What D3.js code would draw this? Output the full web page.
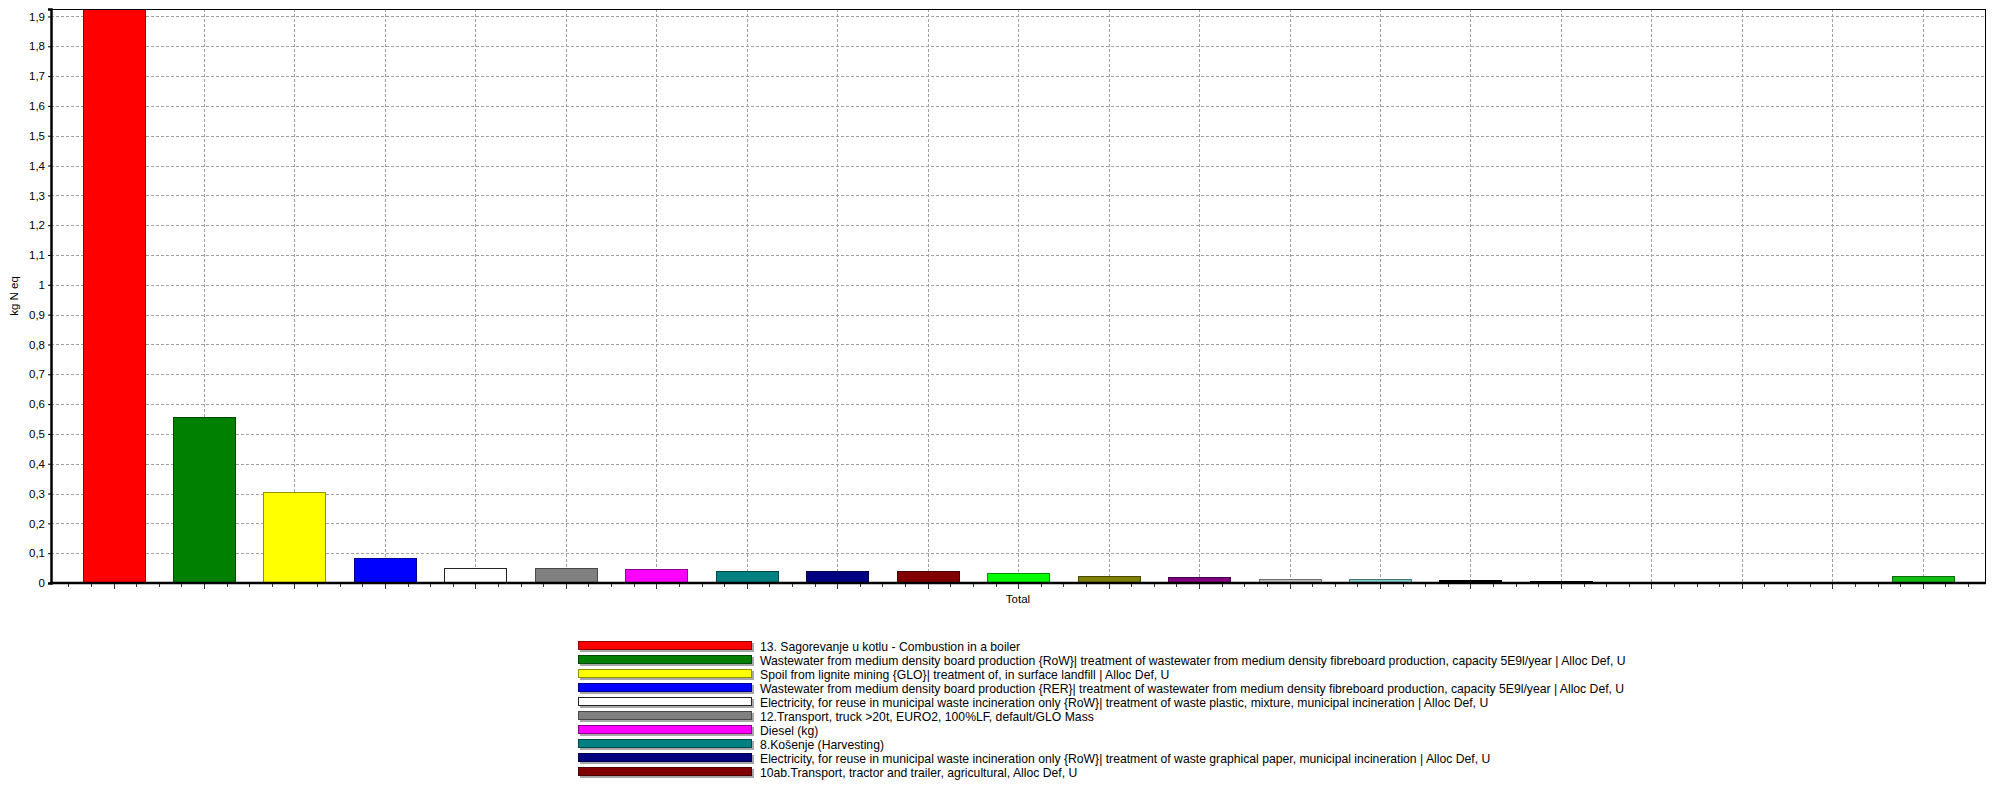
<!DOCTYPE html>
<html>
<head>
<meta charset="utf-8">
<script src="https://cdn.jsdelivr.net/npm/d3@7"></script>
<style>
  html, body { margin: 0; padding: 0; background: #fff; }
  svg { display: block; font-family: "Liberation Sans", Arial, sans-serif; }
</style>
</head>
<body>
<svg id="chart" width="1999" height="785"></svg>
<script>
// ---- data ----
const processNames = [
  "13. Sagorevanje u kotlu - Combustion in a boiler",
  "Wastewater from medium density board production {RoW}| treatment of wastewater from medium density fibreboard production, capacity 5E9l/year | Alloc Def, U",
  "Spoil from lignite mining {GLO}| treatment of, in surface landfill | Alloc Def, U",
  "Wastewater from medium density board production {RER}| treatment of wastewater from medium density fibreboard production, capacity 5E9l/year | Alloc Def, U",
  "Electricity, for reuse in municipal waste incineration only {RoW}| treatment of waste plastic, mixture, municipal incineration | Alloc Def, U",
  "12.Transport, truck >20t, EURO2, 100%LF, default/GLO Mass",
  "Diesel (kg)",
  "8.Košenje (Harvesting)",
  "Electricity, for reuse in municipal waste incineration only {RoW}| treatment of waste graphical paper, municipal incineration | Alloc Def, U",
  "10ab.Transport, tractor and trailer, agricultural, Alloc Def, U"
];
const values = [1.925, 0.557, 0.304, 0.084, 0.050, 0.050, 0.046, 0.039, 0.039, 0.039,
                0.032, 0.024, 0.021, 0.013, 0.013, 0.0095, 0.006, 0, 0, 0, 0.025];
const colors = ["#ff0000", "#008000", "#ffff00", "#0000ff", "#ffffff", "#808080", "#ff00ff",
                "#008080", "#000080", "#800000", "#00ff00", "#808000", "#800080", "#c0c0c0",
                "#80d0d0", "#000000", "#000000", "#c0c0c0", "#c0c0c0", "#c0c0c0", "#14bd14"];
const yTicks = [0, 0.1, 0.2, 0.3, 0.4, 0.5, 0.6, 0.7, 0.8, 0.9, 1, 1.1, 1.2, 1.3, 1.4, 1.5, 1.6, 1.7, 1.8, 1.9];
const xLabel = "Total";
const yLabel = "kg N eq";

// ---- layout ----
const svg = d3.select("#chart");
const plot = { left: 51, right: 1985, top: 9, bottom: 583 };
const idx = d3.range(values.length);

const x = d3.scaleBand().domain(idx).range([68.3, 1968]).paddingInner(0.315).paddingOuter(0.1575);
const y = d3.scaleLinear().domain([0, 1.925]).range([plot.bottom, plot.top]);

const loc = d3.formatLocale({ decimal: ",", thousands: ".", grouping: [3], currency: ["", ""] });
const fmt = loc.format(".1~f");

// gridlines
const grid = svg.append("g").attr("stroke", "#a0a0a0").attr("stroke-width", 1)
  .attr("stroke-dasharray", "3,2").attr("shape-rendering", "crispEdges");
grid.selectAll("line.h").data(yTicks.filter(d => d > 0)).join("line")
  .attr("x1", plot.left).attr("x2", plot.right)
  .attr("y1", d => Math.round(y(d)) + 0.5).attr("y2", d => Math.round(y(d)) + 0.5);
grid.selectAll("line.v").data(idx).join("line")
  .attr("x1", d => Math.round(x(d) + x.bandwidth() / 2) + 0.5)
  .attr("x2", d => Math.round(x(d) + x.bandwidth() / 2) + 0.5)
  .attr("y1", plot.top).attr("y2", plot.bottom);

// bars
svg.append("g").selectAll("rect").data(idx.filter(i => values[i] > 0)).join("rect")
  .attr("x", i => Math.round(x(i)) + 0.5)
  .attr("width", Math.round(x.bandwidth()))
  .attr("y", i => Math.round(y(values[i])) + 0.5)
  .attr("height", i => Math.max(1, Math.round(y(0) - y(values[i]))))
  .attr("fill", i => colors[i])
  .attr("stroke", i => colors[i] === "#ffffff" ? "#222" : d3.color(colors[i]).darker(1.6))
  .attr("stroke-width", 1.3)
  .attr("shape-rendering", "crispEdges");

// frame
svg.append("line").attr("x1", plot.left).attr("x2", plot.right).attr("y1", plot.top + 0.5).attr("y2", plot.top + 0.5)
  .attr("stroke", "#000").attr("stroke-width", 1);
svg.append("line").attr("x1", plot.right + 0.5).attr("x2", plot.right + 0.5).attr("y1", plot.top).attr("y2", plot.bottom)
  .attr("stroke", "#000").attr("stroke-width", 1);

// y axis
const yAxis = d3.axisLeft(y).tickValues(yTicks).tickFormat(fmt).tickSize(3).tickPadding(3);
const gy = svg.append("g").attr("transform", `translate(${plot.left},0)`).call(yAxis);
gy.select(".domain").attr("stroke", "#000").attr("stroke-width", 2.5);
gy.selectAll("text").attr("font-size", 11.5).attr("fill", "#000")
  .attr("font-family", "'Liberation Sans', Arial, sans-serif");

// x axis with quarter-step minor ticks
const step = x.step();
const tickPos = d3.range(values.length * 4 + 1).map(k => ({ pos: 68.3 + k * step / 4, major: k % 4 === 2 }));
const tg = svg.append("g").attr("stroke", "#333").attr("stroke-width", 1).attr("shape-rendering", "crispEdges");
tg.selectAll("line").data(tickPos).join("line")
  .attr("x1", d => Math.round(d.pos) + 0.5).attr("x2", d => Math.round(d.pos) + 0.5)
  .attr("y1", plot.bottom).attr("y2", d => plot.bottom + (d.major ? 6 : 4));
svg.append("line").attr("x1", plot.left - 1).attr("x2", plot.right + 1)
  .attr("y1", plot.bottom).attr("y2", plot.bottom).attr("stroke", "#000").attr("stroke-width", 2.5);

// axis titles
svg.append("text").attr("x", (plot.left + plot.right) / 2).attr("y", 603)
  .attr("text-anchor", "middle").attr("font-size", 11.5).attr("fill", "#000").text(xLabel);
svg.append("text").attr("transform", `translate(18,${(plot.top + plot.bottom) / 2}) rotate(-90)`)
  .attr("text-anchor", "middle").attr("font-size", 11.5).attr("fill", "#000").text(yLabel);

// legend
const lg = svg.append("g");
const rows = lg.selectAll("g").data(processNames).join("g")
  .attr("transform", (d, i) => `translate(0,${646 + i * 14})`);
rows.append("rect").attr("x", 580).attr("y", -3).attr("width", 174).attr("height", 9)
  .attr("fill", "#a8a8a8");
rows.append("rect").attr("x", 578.5).attr("y", -4.5).attr("width", 173).attr("height", 8)
  .attr("fill", (d, i) => colors[i])
  .attr("stroke", (d, i) => colors[i] === "#ffffff" ? "#222" : d3.color(colors[i]).darker(1.6))
  .attr("stroke-width", 1).attr("shape-rendering", "crispEdges");
rows.append("text").attr("x", 760).attr("y", 4.5).attr("font-size", 12.2).attr("fill", "#000")
  .text(d => d);
</script>
</body>
</html>
